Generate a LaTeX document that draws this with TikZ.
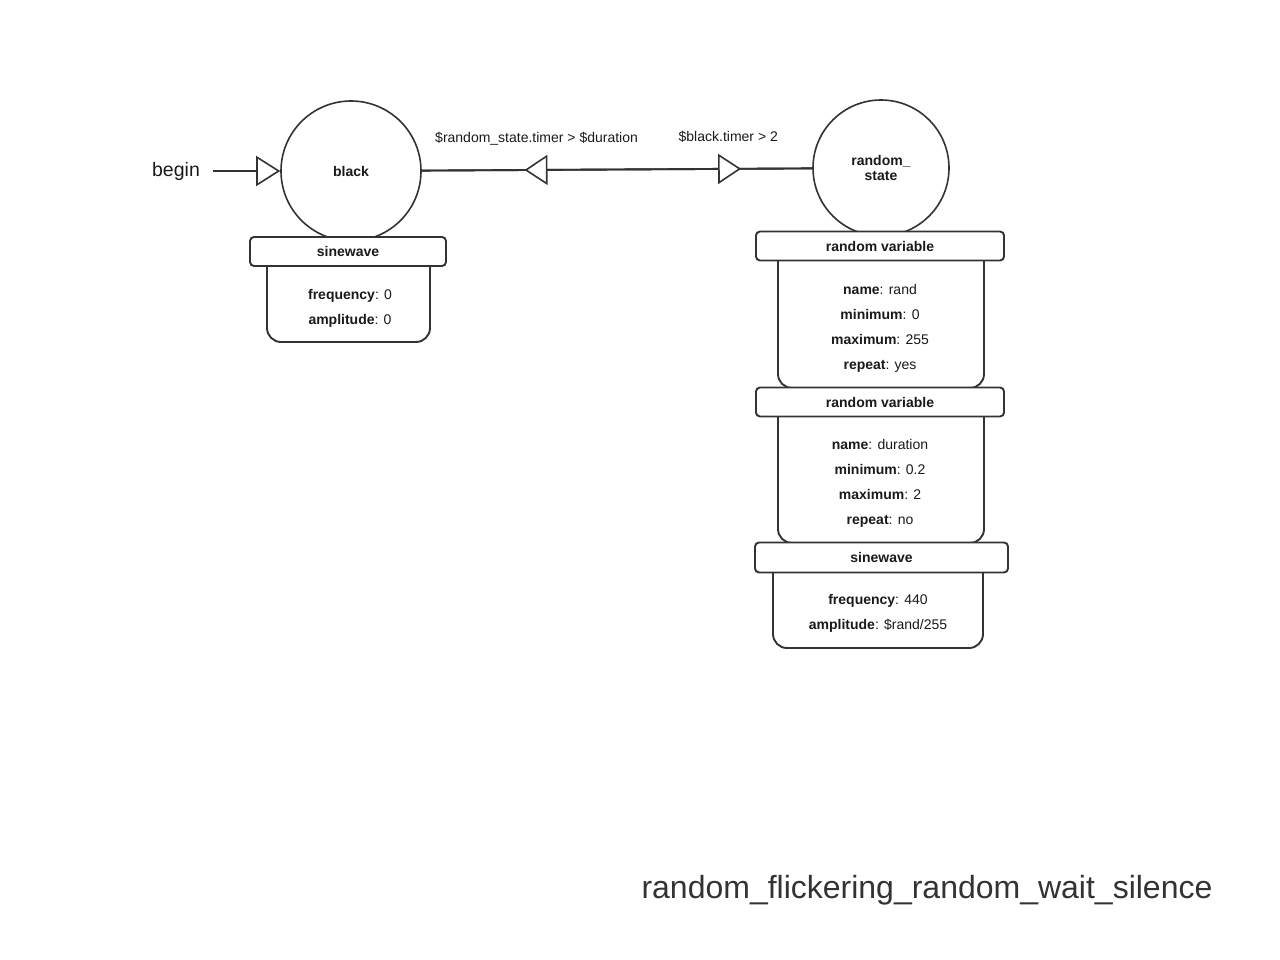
\documentclass[tikz,border=0pt]{standalone}
\usepackage{fontspec}
\setmainfont{Liberation Sans}
\usetikzlibrary{arrows.meta,decorations.markings}
\definecolor{linec}{HTML}{333333}
\definecolor{textc}{HTML}{1A1A1A}
\pgfdeclarelayer{edgelines}
\pgfsetlayers{edgelines,main}
\begin{document}
\begin{tikzpicture}[x=1pt,y=-1pt,line width=1.6pt,
  every node/.style={text=textc},
  state/.style={circle,draw=linec,fill=white,minimum size=140pt,inner sep=0pt,
    align=center,font=\bfseries\fontsize{14}{15}\selectfont},
  header/.style={draw=linec,fill=white,line width=1.9pt,rounded corners=4pt,inner sep=0pt,
    font=\bfseries\fontsize{14}{16}\selectfont},
  body/.style={draw=linec,fill=white,line width=1.9pt,rounded corners=14pt,inner sep=0pt},
  fields/.style={align=center,font=\fontsize{14}{25}\selectfont},
  cond/.style={font=\fontsize{14}{16}\selectfont},
  edge/.style={draw=linec,line width=1.9pt},
  tri/.tip={Triangle[length=23pt,width=30pt,fill=white]},
  tipat/.style={postaction=decorate,decoration={markings,
    mark=at position #1 with {\arrow[linec,line width=1.6pt]{tri}}}}]
\useasboundingbox (0,0) rectangle (1280,960);

% states
\node[state] (black) at (351,171) {black};
\node[state,minimum size=136pt] (rs) at (881,168) {random\_\\state};

% entry point
\node[font=\fontsize{19.5}{22}\selectfont] (begin) at (176,171) {begin};
\draw[linec,shorten <=9pt,-{Triangle[length=24pt,width=30pt,fill=white]}] (begin.east) -- (black);

% transitions: lines below, open heads on top
\begin{pgfonlayer}{edgelines}
  \draw[edge] (black) -- (rs);
  \draw[edge] (rs) -- (black);
\end{pgfonlayer}
\path[tipat=0.818] (black) -- node[cond,pos=0.785,yshift=32pt] (c1) {\$black.timer > 2} (rs);
\path[tipat=0.737] (rs) -- node[cond,pos=0.706,yshift=31pt] (c2) {\$random\_state.timer > \$duration} (black);

% component of state black
\node[body,minimum width=163pt,minimum height=97pt] (bbody) at (348.5,293.5) {};
\node[header,minimum width=196pt,minimum height=29pt] (bhead) at (348,251.5) {sinewave};
\node[fields] (bfields) at (350,308.5) {\textbf{frequency}: 0\\\textbf{amplitude}: 0};

% components of state random_state
\node[body,minimum width=206pt,minimum height=148pt] (body1) at (881,314) {};
\node[header,minimum width=248pt,minimum height=29pt] (head1) at (880,246) {random variable};
\node[fields] (fields1) at (880,328) {\textbf{name}: rand\\\textbf{minimum}: 0\\\textbf{maximum}: 255\\\textbf{repeat}: yes};

\node[body,minimum width=206pt,minimum height=143pt] (body2) at (881,471.5) {};
\node[header,minimum width=248pt,minimum height=29pt] (head2) at (880,402) {random variable};
\node[fields] (fields2) at (880,483.5) {\textbf{name}: duration\\\textbf{minimum}: 0.2\\\textbf{maximum}: 2\\\textbf{repeat}: no};

\node[body,minimum width=210pt,minimum height=93pt] (body3) at (878,601.5) {};
\node[header,minimum width=253pt,minimum height=30pt] (head3) at (881.5,557.5) {sinewave};
\node[fields] (fields3) at (878,613.5) {\textbf{frequency}: 440\\\textbf{amplitude}: \$rand/255};

% diagram title
\node[font=\fontsize{32}{36}\selectfont,text=linec] (title) at (927,890) {random\_flickering\_random\_wait\_silence};
\end{tikzpicture}
\end{document}
